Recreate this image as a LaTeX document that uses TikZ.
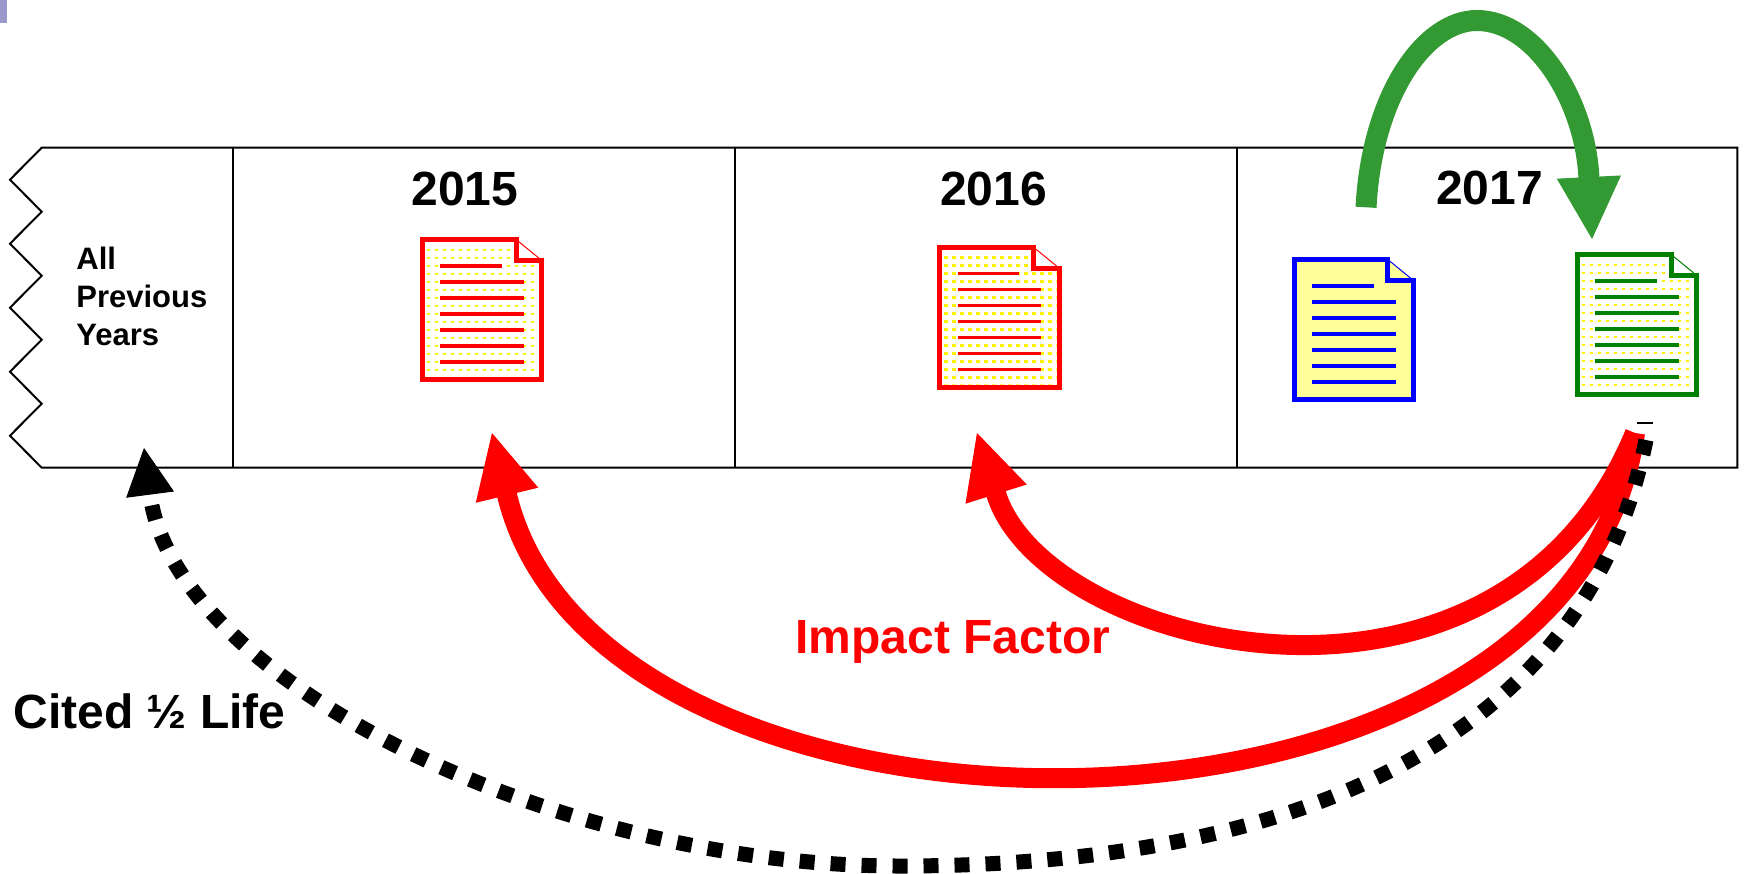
\documentclass[tikz,border=0pt]{standalone}
\usepackage{fontspec}
\setmainfont{Liberation Sans}
\usetikzlibrary{arrows.meta}
\definecolor{pptgreen}{HTML}{339933}
\definecolor{docgreen}{HTML}{008000}
\definecolor{paleyellow}{HTML}{FFFF99}
\definecolor{tabpurple}{HTML}{9999CC}
\tikzset{
  docnode/.style={rectangle, minimum width=62.25pt, minimum height=72.25pt, inner sep=0pt, draw=none},
  tabline/.style={line width=1pt, black},
  yearlabel/.style={anchor=base, inner sep=0pt, font=\fontsize{24pt}{28pt}\selectfont\bfseries},
  biglabel/.style={anchor=base west, inner sep=0pt, font=\fontsize{24pt}{28pt}\selectfont\bfseries},
  redarrow/.style={draw=red, line width=10pt, -{Triangle[length=32pt, width=32pt, line width=0.5pt]}, red},
  greenarrow/.style={draw=pptgreen, line width=10.5pt, -{Triangle[length=31pt, width=32pt, line width=0.5pt]}, pptgreen},
  dotarrow/.style={draw=black, line width=7.5pt, dash pattern=on 7.5pt off 8pt, -{Triangle[length=23.5pt, width=24pt, line width=0.5pt]}}
}
\newcommand\docdots{%
  \begin{scope}
    \clip (5,5) -- (93.5,5) -- (93.5,21) -- (119.3,21) -- (119.3,139.5) -- (5,139.5) -- cycle;
    \foreach \r in {0,...,16} {\draw[yellow, line width=1.3pt, dash pattern=on 1.8pt off 2.2pt] (6.7,{12.7+8*\r}) -- (124,{12.7+8*\r});}
  \end{scope}}
\newcommand\docicon[6]{%
  \begin{scope}[shift={(#2,#3)}]
    \node[docnode] (#1) at (62.25,72.25) {};
    \fill[#5] (2.5,2.5) -- (96,2.5) -- (96,23.5) -- (121.8,23.5) -- (121.8,142) -- (2.5,142) -- cycle;
    \fill[#5] (95,0.5) -- (123.5,24.5) -- (95,24.5) -- cycle;
    #6
    \draw[#4, line width=0.5pt] (94,0.5) -- (124,25);
    \draw[#4, line width=2.5pt, line join=miter] (2.5,2.5) -- (96,2.5) -- (96,23.5) -- (121.8,23.5) -- (121.8,142) -- (2.5,142) -- cycle;
    \draw[#4, line width=1.9pt] (20.3,28.5) -- (82,28.5);
    \foreach \k in {1,...,6} {\draw[#4, line width=1.9pt] (20.3,{28.5+16*\k}) -- (104,{28.5+16*\k});}
  \end{scope}}
\begin{document}
\begin{tikzpicture}[x=0.5pt, y=-0.5pt]
  \fill[white] (0,0) rectangle (1744,873);
  \useasboundingbox (0,0) rectangle (1744,873);
  \fill[tabpurple] (0,0) rectangle (6.7,22.7);

  % table
  \draw[tabline, line join=miter] (41.7,147.7) -- (1737.3,147.7) -- (1737.3,467.7) -- (41.7,467.7)
     -- (10,435.7) -- (41.7,403.7) -- (10,371.7) -- (41.7,339.7) -- (10,307.7)
     -- (41.7,275.7) -- (10,243.7) -- (41.7,211.7) -- (10,179.7) -- cycle;
  \draw[tabline] (233.3,147.7) -- (233.3,467.7);
  \draw[tabline] (735,147.7) -- (735,467.7);
  \draw[tabline] (1236.7,147.7) -- (1236.7,467.7);

  % labels
  \node[anchor=west, align=left, inner sep=0pt, font=\fontsize{15.5pt}{19pt}\selectfont\bfseries] (prev) at (76,296) {All\\Previous\\Years};
  \node[yearlabel] (y15) at (465,205) {2015};
  \node[yearlabel] (y16) at (993.5,205) {2016};
  \node[yearlabel] (y17) at (1489.5,204) {2017};

  % documents
  \docicon{d15}{420}{237.3}{red}{white}{\docdots}
  \docicon{d16}{937.4}{245}{red}{white}{\docdots}
  \docicon{d17a}{1291.7}{257.3}{blue}{paleyellow}{}
  \docicon{d17b}{1575}{252.3}{docgreen}{white}{\docdots}

  \draw[black, line width=0.8pt] (1636.7,422.7) -- (1652.7,422.7);

  % connector end points
  \coordinate (src) at (1635,433);
  \coordinate (dsrc) at (1646,440);
  \coordinate (t15) at (492,433);
  \coordinate (t16) at (977,433);
  \coordinate (tprev) at (144,448);
  \coordinate (bot) at (900,866);
  \coordinate (gs) at (1366,207.3);
  \coordinate (gtop) at (1477,20.5);
  \coordinate (gtip) at (1592,239);

  % impact factor arrows
  \draw[redarrow] (src) .. controls (1570,885) and (600,880) .. (t15);
  \draw[redarrow] (src) .. controls (1500,760) and (1045,650) .. (t16);

  % cited half life
  \draw[dotarrow] (dsrc) .. controls (1585,740) and (1300,866) .. (bot)
                         .. controls (550,866) and (174,678) .. (tprev);

  % green self-citation arrow
  \draw[greenarrow] (gs) .. controls (1372,95) and (1425,20.5) .. (gtop)
                         .. controls (1535,20.5) and (1585,100) .. (gtip);

  \node[biglabel, text=red] (imp) at (795,653.3) {Impact Factor};
  \node[biglabel] (cited) at (13,728.3) {Cited ½ Life};
\end{tikzpicture}
\end{document}
